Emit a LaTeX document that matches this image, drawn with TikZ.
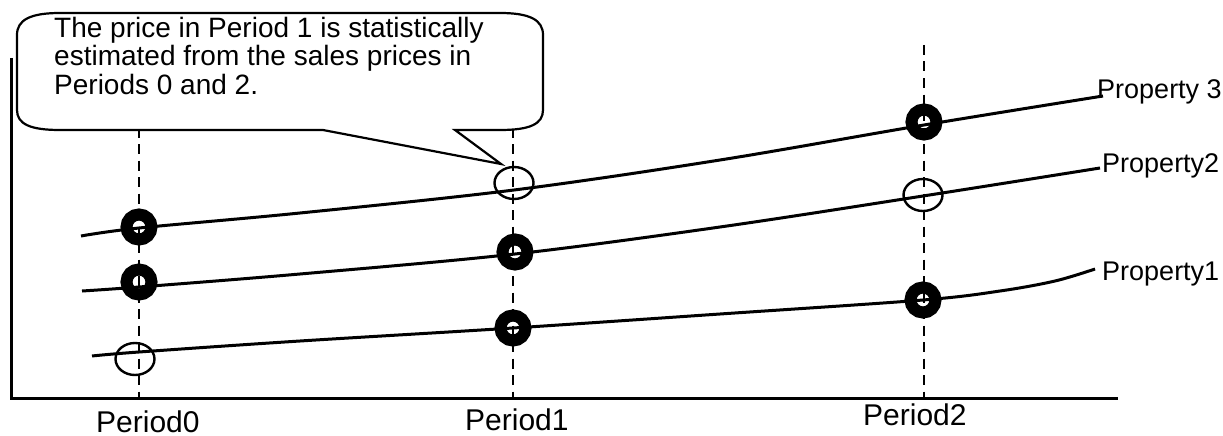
\documentclass[tikz,border=0pt]{standalone}
\usepackage{fontspec}
\setmainfont{Liberation Sans}
\usetikzlibrary{shapes.geometric}
\begin{document}
\begin{tikzpicture}[x=1pt,y=-1pt,
  axisline/.style={line width=3pt},
  guide/.style={line width=2.2pt, dash pattern=on 10pt off 6.5pt},
  curve/.style={line width=3pt, line join=round},
  ring/.style={circle, draw=black, fill=white, line width=12pt, minimum size=25pt, inner sep=0pt},
  open/.style={ellipse, draw=black, line width=2.4pt, minimum width=39pt, minimum height=32pt, inner sep=0pt},
  lbl/.style={font=\fontsize{27}{29}\selectfont, inner sep=0pt, anchor=base west},
  nlbl/.style={font=\fontsize{28}{30}\selectfont, inner sep=0pt, anchor=base west},
  plbl/.style={font=\fontsize{30}{32}\selectfont, inner sep=0pt, anchor=base west},
  callout/.style={line width=2.2pt, fill=white, line join=miter}]
\useasboundingbox (0,0) rectangle (1223,436);

% markers
\node[ring] (a0) at (139,227) {};
\node[ring] (b0) at (139,282) {};
\node[open] (c0) at (135,359) {};
\node[open] (a1) at (514,183) {};
\node[ring] (b1) at (515,252) {};
\node[ring] (c1) at (513,328) {};
\node[ring] (a2) at (924,122) {};
\node[open] (b2) at (923,195) {};
\node[ring] (c2) at (923,300) {};

% guide lines
\coordinate (g0t) at (139,45); \coordinate (g0b) at (139,398);
\coordinate (g1t) at (513,45); \coordinate (g1b) at (513,398);
\coordinate (g2t) at (924,45); \coordinate (g2b) at (924,398);
\draw[guide] (g0t) -- (g0b);
\draw[guide] (g1t) -- (g1b);
\draw[guide] (g2t) -- (g2b);

% axes
\coordinate (o) at (11,398);
\coordinate (ytop) at (11,58);
\coordinate (xend) at (1118,398);
\draw[axisline] (ytop) -- (o) -- (xend);

% curves
\draw[curve] plot[smooth, tension=0.55] coordinates {(81,236) (139,228) (300,213) (514,190) (720,160) (924,125) (1103,96)};
\draw[curve] plot[smooth, tension=0.55] coordinates {(82,291) (139,287) (300,274) (515,254) (720,227) (923,196) (1100,168)};
\draw[curve] plot[smooth, tension=0.55] coordinates {(92,356) (139,352) (300,341) (513,328) (720,314) (923,300) (1000,291) (1055,281) (1095,269)};

% curve labels
\node[lbl] (p3) at (1097,98) {Property 3};
\node[lbl] (p2) at (1102,172) {Property2};
\node[lbl] (p1) at (1102,280) {Property1};

% period labels
\node[plbl] (t0) at (96,432) {Period0};
\node[plbl] (t1) at (465,430) {Period1};
\node[plbl] (t2) at (863,425) {Period2};

% callout
\coordinate (tip) at (501,164);
\draw[callout] (60,13) -- (500,13) .. controls (530,13) and (543,20) .. (543,35)
  -- (543,110) .. controls (543,124) and (530,130) .. (500,130)
  -- (455,130) -- (tip) -- (323,130)
  -- (60,130) .. controls (30,130) and (17,124) .. (17,110)
  -- (17,35) .. controls (17,20) and (30,13) .. (60,13) -- cycle;
\node[nlbl] (n1) at (54,38) {The price in Period 1 is statistically};
\node[nlbl] (n2) at (54,66) {estimated from the sales prices in};
\node[nlbl] (n3) at (54,94) {Periods 0 and 2.};
\end{tikzpicture}
\end{document}
